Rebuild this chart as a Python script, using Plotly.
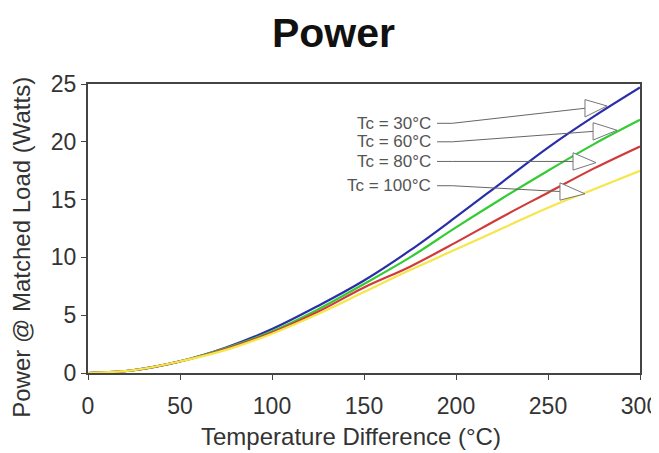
import plotly.graph_objects as go

delta_t = [0, 25, 50, 75, 100, 125, 150, 175, 200, 225, 250, 275, 300]
p_tc30 = [0, 0.25, 1.0, 2.2, 3.8, 5.8, 8.0, 10.6, 13.5, 16.5, 19.5, 22.2, 24.7]
p_tc60 = [0, 0.25, 1.0, 2.15, 3.6, 5.5, 7.7, 10.0, 12.6, 15.1, 17.5, 19.8, 21.9]
p_tc80 = [0, 0.25, 1.0, 2.1, 3.5, 5.3, 7.4, 9.2, 11.3, 13.5, 15.6, 17.7, 19.6]
p_tc100 = [0, 0.25, 1.0, 2.0, 3.4, 5.1, 7.0, 8.9, 10.7, 12.5, 14.3, 15.9, 17.5]

labels = ["Tc = 30°C", "Tc = 60°C", "Tc = 80°C", "Tc = 100°C"]
colors = ["#2a2fa8", "#33cc33", "#d23a3a", "#f5e64a"]
series = [p_tc30, p_tc60, p_tc80, p_tc100]

# annotation geometry (data units): text end, triangle base, triangle tip
label_y = [21.6, 20.0, 18.3, 16.2]
base_pts = [(270.1, 22.9), (274.5, 20.9), (263.6, 18.3), (256.5, 15.7)]
tip_pts = [(282.1, 23.1), (287.5, 21.0), (276.1, 18.2), (270.1, 15.5)]

fig = go.Figure()
for name, ys, c in zip(labels, series, colors):
    fig.add_trace(go.Scatter(x=delta_t, y=ys, mode="lines", name=name,
                             line=dict(color=c, width=2.2, shape="spline"),
                             showlegend=False))

FONT = "Liberation Sans, Arial"
shapes = []
annotations = []
for lab, ly, (bx, by), (tx, ty) in zip(labels, label_y, base_pts, tip_pts):
    annotations.append(dict(x=187.5, y=ly, xref="x", yref="y", text=lab,
                            showarrow=False, xanchor="right", yanchor="middle",
                            font=dict(size=17, color="#555555", family=FONT)))
    shapes.append(dict(type="path", xref="x", yref="y",
                       path=f"M 189.7 {ly} L 198 {ly} L {bx} {by}",
                       line=dict(color="#666666", width=1)))
    h = 0.75
    shapes.append(dict(type="path", xref="x", yref="y",
                       path=f"M {bx} {by - h} L {bx} {by + h} L {tx} {ty} Z",
                       fillcolor="white", line=dict(color="#777777", width=1)))

# axis titles as annotations (placed like the reference)
annotations.append(dict(x=0.476, y=-0.221, xref="paper", yref="paper",
                        text="Temperature Difference (°C)", showarrow=False,
                        xanchor="center", yanchor="middle",
                        font=dict(size=24, color="#333333", family=FONT)))
annotations.append(dict(x=-0.12, y=0.436, xref="paper", yref="paper",
                        text="Power @ Matched Load (Watts)", showarrow=False,
                        textangle=-90, xanchor="center", yanchor="middle",
                        font=dict(size=24, color="#333333", family=FONT)))

fig.update_layout(
    width=651, height=445,
    margin=dict(l=80, r=19, t=76, b=80, autoexpand=False),
    paper_bgcolor="white", plot_bgcolor="white",
    title=dict(text="<b>Power</b>", x=0.5, xanchor="center", y=0.945, yanchor="middle",
               font=dict(size=41, color="#111111", family=FONT)),
    font=dict(family=FONT, color="#333333"),
    shapes=shapes, annotations=annotations,
)
fig.update_xaxes(range=[0, 300], tickvals=[0, 50, 100, 150, 200, 250, 300],
                 showgrid=False, zeroline=False, showline=True, linecolor="#444444",
                 linewidth=2, mirror=True, ticks="outside", ticklen=5, tickcolor="#444444",
                 automargin=False, ticklabeloverflow="allow", ticklabelstandoff=6,
                 tickfont=dict(size=23, color="#333333"))
fig.update_yaxes(range=[0, 25], tickvals=[0, 5, 10, 15, 20, 25],
                 showgrid=False, zeroline=False, showline=True, linecolor="#444444",
                 linewidth=2, mirror=True, ticks="outside", ticklen=5, tickcolor="#444444",
                 automargin=False, ticklabeloverflow="allow",
                 tickfont=dict(size=23, color="#333333"))

fig.write_html("out.html")
